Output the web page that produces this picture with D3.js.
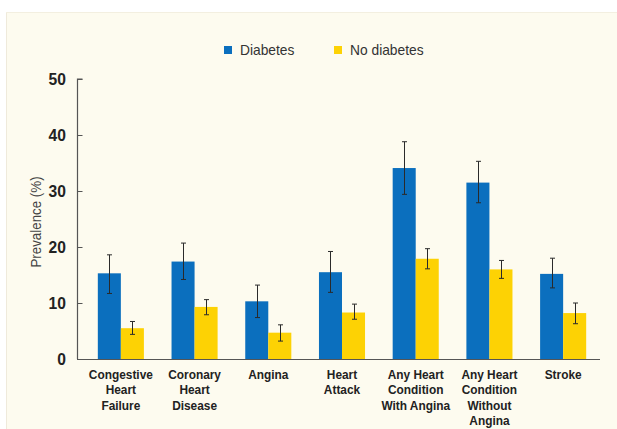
<!DOCTYPE html>
<html>
<head>
<meta charset="utf-8">
<script src="https://cdn.jsdelivr.net/npm/d3@7"></script>
<style>
  html, body { margin: 0; padding: 0; background: #ffffff; }
  svg { display: block; }
</style>
</head>
<body>
<svg id="chart" width="617" height="429"></svg>
<script>
const categories = [
  ["Congestive", "Heart", "Failure"],
  ["Coronary", "Heart", "Disease"],
  ["Angina"],
  ["Heart", "Attack"],
  ["Any Heart", "Condition", "With Angina"],
  ["Any Heart", "Condition", "Without", "Angina"],
  ["Stroke"]
];
const seriesNames = ["Diabetes", "No diabetes"];
const diabetes      = [15.3, 17.4, 10.3, 15.5, 34.1, 31.5, 15.2];
const diabetesLow   = [11.7, 14.2, 7.4, 11.9, 29.4, 27.9, 12.7];
const diabetesHigh  = [18.6, 20.7, 13.2, 19.2, 38.8, 35.3, 18.0];
const noDiabetes     = [5.5, 9.3, 4.7, 8.3, 17.9, 16.0, 8.2];
const noDiabetesLow  = [4.4, 7.9, 3.2, 7.1, 16.1, 14.4, 6.3];
const noDiabetesHigh = [6.7, 10.6, 6.1, 9.8, 19.7, 17.6, 10.0];
const yTicks = [0, 10, 20, 30, 40, 50];
const colors = ["#0b6fbe", "#fdd204"];

const svg = d3.select("#chart");
const FONT = "'Liberation Sans', Arial, sans-serif";

// panel background
svg.append("rect").attr("x", 6).attr("y", 12).attr("width", 611).attr("height", 417)
  .attr("fill", "#fdfbef");
svg.append("line").attr("x1", 6.5).attr("x2", 6.5).attr("y1", 12).attr("y2", 429)
  .attr("stroke", "#efeadb").attr("stroke-width", 1);
svg.append("line").attr("x1", 6).attr("x2", 617).attr("y1", 12.5).attr("y2", 12.5)
  .attr("stroke", "#f3efe0").attr("stroke-width", 1);

const keys = categories.map((c, i) => i);
const x0 = d3.scaleBand().domain(keys).range([84, 600]).paddingInner(0.375).paddingOuter(0.1875);
const x1 = d3.scaleBand().domain([0, 1]).range([0, x0.bandwidth()]);
const y = d3.scaleLinear().domain([0, 50]).range([359, 79]);

const data = [
  { vals: diabetes, lo: diabetesLow, hi: diabetesHigh },
  { vals: noDiabetes, lo: noDiabetesLow, hi: noDiabetesHigh }
];

// bars
data.forEach((s, si) => {
  svg.append("g").selectAll("rect").data(s.vals).join("rect")
    .attr("x", (d, i) => x0(i) + x1(si))
    .attr("width", x1.bandwidth())
    .attr("y", d => y(d))
    .attr("height", d => y(0) - y(d))
    .attr("fill", colors[si]);
});

// error bars
data.forEach((s, si) => {
  const g = svg.append("g").attr("stroke", "#2a2a2a").attr("stroke-width", 1);
  s.vals.forEach((d, i) => {
    const cx = Math.round(x0(i) + x1(si) + x1.bandwidth() / 2) + 0.5;
    g.append("line").attr("x1", cx).attr("x2", cx).attr("y1", y(s.hi[i])).attr("y2", y(s.lo[i]));
    g.append("line").attr("x1", cx - 2.5).attr("x2", cx + 2.5).attr("y1", y(s.hi[i])).attr("y2", y(s.hi[i]));
    g.append("line").attr("x1", cx - 2.5).attr("x2", cx + 2.5).attr("y1", y(s.lo[i])).attr("y2", y(s.lo[i]));
  });
});

// y axis
const yAxis = d3.axisRight(y).tickValues(yTicks).tickSize(5).tickFormat("");
const yg = svg.append("g").attr("transform", "translate(77.5,0)").call(yAxis);
yg.select(".domain").attr("stroke", "#555").attr("stroke-width", 1.2).attr("d", `M5,${y(50)}H0V${y(0)}`);
yg.selectAll(".tick line").attr("stroke", "#555");
svg.append("g").selectAll("text").data(yTicks).join("text")
  .attr("transform", d => `translate(66,${y(d)}) scale(0.92,1)`)
  .attr("dy", "0.36em")
  .attr("text-anchor", "end")
  .attr("font-family", FONT).attr("font-weight", "bold").attr("font-size", 17)
  .attr("fill", "#222").text(d => d);

// x axis line
const xAxis = d3.axisBottom(x0).tickSize(0).tickFormat("");
const xg = svg.append("g").attr("transform", `translate(0,${y(0) + 0.5})`).call(xAxis);
xg.select(".domain").attr("stroke", "#555").attr("stroke-width", 1.2).attr("d", "M77,0H600");

// x labels
const xl = svg.append("g");
categories.forEach((lines, i) => {
  const t = xl.append("text")
    .attr("transform", `translate(${x0(i) + x0.bandwidth() / 2},379) scale(0.88,1)`)
    .attr("text-anchor", "middle")
    .attr("font-family", FONT).attr("font-weight", "bold").attr("font-size", 13.5)
    .attr("fill", "#222");
  lines.forEach((ln, j) => {
    t.append("tspan").attr("x", 0).attr("dy", j === 0 ? 0 : 15.3).text(ln);
  });
});

// y title
svg.append("text")
  .attr("transform", `translate(41,222) rotate(-90) scale(0.92,1)`)
  .attr("text-anchor", "middle")
  .attr("font-family", FONT).attr("font-size", 14.5)
  .attr("fill", "#444").text("Prevalence (%)");

// legend
const legendX = [224, 334];
seriesNames.forEach((n, i) => {
  svg.append("rect").attr("x", legendX[i]).attr("y", 46).attr("width", 8).attr("height", 8).attr("fill", colors[i]);
  svg.append("text").attr("transform", `translate(${legendX[i] + 16},50) scale(0.92,1)`).attr("dy", "0.36em")
    .attr("font-family", FONT).attr("font-size", 15)
    .attr("fill", "#333").text(n);
});
</script>
</body>
</html>
